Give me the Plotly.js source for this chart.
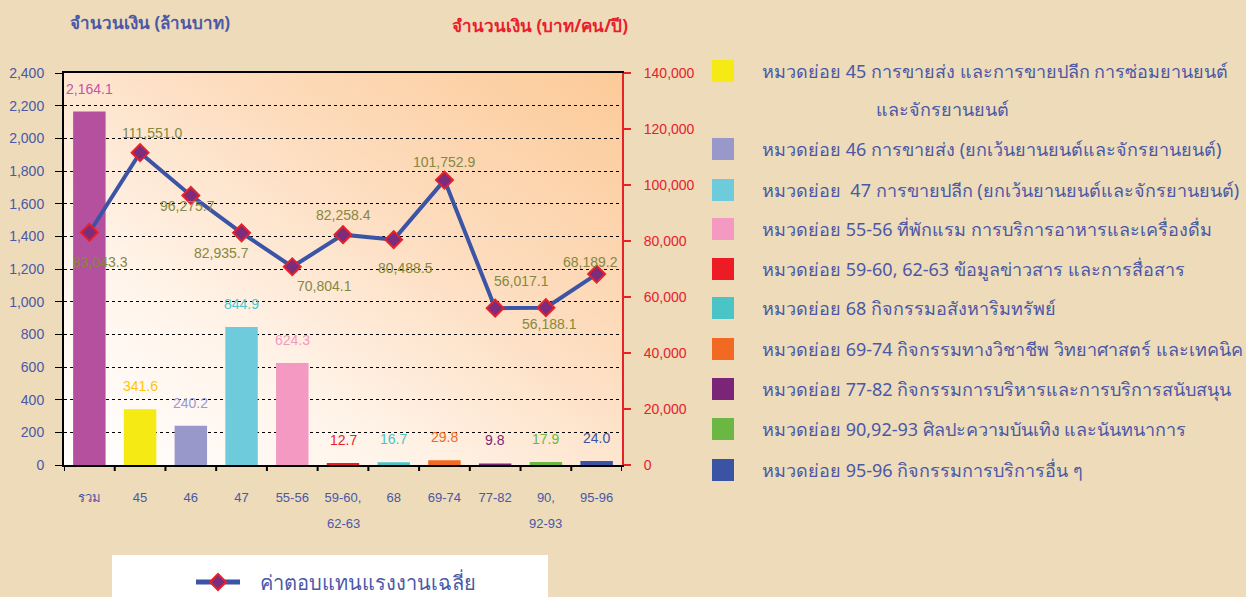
<!DOCTYPE html>
<html>
<head>
<meta charset="utf-8">
<script src="https://cdn.plot.ly/plotly-3.0.1.min.js"></script>
<style>
  html, body { margin:0; padding:0; background:#EDDBBA; width:1246px; height:597px; overflow:hidden; }
  #wrap { position:relative; width:1246px; height:597px; }
  #grad { position:absolute; left:64px; top:73px; width:558px; height:392px;
          background: linear-gradient(to top right, #FFFFFF 0%, #FFF4EA 30%, #FDDDBF 62%, #FCCA98 100%); z-index:0; }
  #chart { position:absolute; left:0; top:0; width:1246px; height:597px; z-index:1; }
</style>
</head>
<body>
<div id="wrap"><div id="grad"></div><div id="chart"></div></div>
<script>
// ---- data ----
const categories = ['รวม', '45', '46', '47', '55-56', '59-60,', '68', '69-74', '77-82', '90,', '95-96'];
const categoryLine2 = ['', '', '', '', '', '62-63', '', '', '', '92-93', ''];
const amountMillionBaht = [2164.1, 341.6, 240.2, 844.9, 624.3, 12.7, 16.7, 29.8, 9.8, 17.9, 24.0];
const avgCompensation = [83043.3, 111551.0, 96275.7, 82935.7, 70804.1, 82258.4, 80488.5, 101752.9, 56017.1, 56188.1, 68189.2];
const legendLabels = [
  'หมวดย่อย 45 การขายส่ง และการขายปลีก การซ่อมยานยนต์',
  'หมวดย่อย 46 การขายส่ง (ยกเว้นยานยนต์และจักรยานยนต์)',
  'หมวดย่อย  47 การขายปลีก (ยกเว้นยานยนต์และจักรยานยนต์)',
  'หมวดย่อย 55-56 ที่พักแรม การบริการอาหารและเครื่องดื่ม',
  'หมวดย่อย 59-60, 62-63 ข้อมูลข่าวสาร และการสื่อสาร',
  'หมวดย่อย 68 กิจกรรมอสังหาริมทรัพย์',
  'หมวดย่อย 69-74 กิจกรรมทางวิชาชีพ วิทยาศาสตร์ และเทคนิค',
  'หมวดย่อย 77-82 กิจกรรมการบริหารและการบริการสนับสนุน',
  'หมวดย่อย 90,92-93 ศิลปะความบันเทิง และนันทนาการ',
  'หมวดย่อย 95-96 กิจกรรมการบริการอื่น ๆ'
];
const legendLabel1Line2 = 'และจักรยานยนต์';
const lineName = 'ค่าตอบแทนแรงงานเฉลี่ย';
const leftTitle = 'จำนวนเงิน (ล้านบาท)';
const rightTitle = 'จำนวนเงิน (บาท/คน/ปี)';

// ---- styles ----
const barColors = ['#B5509E', '#F5EA14', '#9898CB', '#6ECBDC', '#F49AC2', '#ED1C24', '#4BC4C8', '#F26A21', '#7B2579', '#6AB843', '#3A53A4'];
const barLabelColors = ['#C852A8', '#FFC20E', '#9A9AD0', '#4FC6CF', '#F49AC2', '#ED1C24', '#4BC4C8', '#F26A21', '#7B2579', '#6AB843', '#3A53A4'];
const lineLabelShift = [[11,-30],[12,20],[-3,-11],[-20,-20],[32,-19],[0,20],[12,-28],[0,18],[26,27],[4,-16],[-6,12]];
const legendRowY = [71, 149, 190, 229, 269, 308, 349, 389, 429, 470];
const blue = '#4A58A6', red = '#E8202A', olive = '#85883F';
const numFont = 'Tahoma, "Liberation Sans", "Noto Sans", sans-serif';

const L = 64, R = 622, T = 73, B = 465;
const px = x => (x - L) / (R - L);
const py = y => (B - y) / (B - T);
const fmt = v => v.toLocaleString('en-US', {minimumFractionDigits:1, maximumFractionDigits:1});

const idx = categories.map((c, i) => i);

const bars = {
  type: 'bar', x: idx, y: amountMillionBaht,
  marker: {color: barColors}, width: 0.64, showlegend: false, hoverinfo: 'y'
};
const line = {
  type: 'scatter', mode: 'lines+markers', x: idx, y: avgCompensation, yaxis: 'y2',
  line: {color: '#3B54A5', width: 4},
  marker: {symbol: 'diamond', size: 13, color: '#7B2C7D', line: {color: red, width: 2}},
  showlegend: false, name: lineName
};

const note = (o) => Object.assign({showarrow: false, xanchor: 'center', yanchor: 'middle'}, o);

const annotations = [];
idx.forEach((i) => {
  annotations.push(note({x: i, y: amountMillionBaht[i], xref: 'x', yref: 'y', text: fmt(amountMillionBaht[i]),
    yshift: 23, font: {family: numFont, size: 14, color: barLabelColors[i]}}));
  annotations.push(note({x: i, y: avgCompensation[i], xref: 'x', yref: 'y2', text: fmt(avgCompensation[i]),
    xshift: lineLabelShift[i][0], yshift: lineLabelShift[i][1],
    font: {family: numFont, size: 14, color: olive}}));
  if (categoryLine2[i]) {
    annotations.push(note({x: i, y: py(523), xref: 'x', yref: 'paper', text: categoryLine2[i],
      font: {family: numFont, size: 13, color: blue}}));
  }
});
annotations.push(note({x: px(68), y: py(22), xref: 'paper', yref: 'paper', xanchor: 'left', text: '<b>' + leftTitle + '</b>',
  font: {size: 17, color: blue}}));
annotations.push(note({x: px(450), y: py(25), xref: 'paper', yref: 'paper', xanchor: 'left', text: '<b>' + rightTitle + '</b>',
  font: {size: 17, color: red}}));

const shapes = [];
legendLabels.forEach((t, i) => {
  const yc = legendRowY[i];
  shapes.push({type: 'rect', xref: 'paper', yref: 'paper', x0: px(712), x1: px(734), y0: py(yc - 11), y1: py(yc + 11),
    fillcolor: barColors[i + 1], line: {width: 0}});
  annotations.push(note({x: px(760), y: py(yc), xref: 'paper', yref: 'paper', xanchor: 'left', text: t,
    font: {size: 18, color: blue}}));
});
annotations.push(note({x: px(874), y: py(109), xref: 'paper', yref: 'paper', xanchor: 'left', text: legendLabel1Line2,
  font: {size: 18, color: blue}}));

// bottom legend box
shapes.push({type: 'rect', xref: 'paper', yref: 'paper', x0: px(112), x1: px(548), y0: py(555), y1: py(600),
  fillcolor: '#FFFFFF', line: {width: 0}});
shapes.push({type: 'line', xref: 'paper', yref: 'paper', x0: px(196), x1: px(240), y0: py(582), y1: py(582),
  line: {color: '#3B54A5', width: 5}});
shapes.push({type: 'path', xref: 'paper', yref: 'paper',
  path: `M ${px(218)} ${py(574)} L ${px(226)} ${py(582)} L ${px(218)} ${py(590)} L ${px(210)} ${py(582)} Z`,
  fillcolor: '#7B2C7D', line: {color: red, width: 2}});
annotations.push(note({x: px(258), y: py(582), xref: 'paper', yref: 'paper', xanchor: 'left', text: lineName,
  font: {size: 20, color: blue}}));

const layout = {
  width: 1246, height: 597,
  margin: {l: L, r: 1246 - R, t: T, b: 597 - B, pad: 0},
  paper_bgcolor: 'rgba(0,0,0,0)', plot_bgcolor: 'rgba(0,0,0,0)',
  font: {family: '"Noto Sans", sans-serif', color: blue},
  xaxis: {range: [-0.5, categories.length - 0.5], tickmode: 'array', tickvals: idx, ticktext: categories,
    showline: true, linecolor: '#000', linewidth: 2, mirror: true,
    ticks: '', ticklabelstandoff: 19, tickangle: 0,
    tickfont: {family: numFont, size: 13, color: blue}, showgrid: false, zeroline: false},
  yaxis: {range: [0, 2400], dtick: 200, tickformat: ',d', showline: true, linecolor: '#000', linewidth: 2,
    ticks: 'outside', ticklen: 7, tickcolor: '#000', tickwidth: 1, ticklabelstandoff: 8,
    tickfont: {family: numFont, size: 14, color: blue},
    showgrid: true, gridcolor: '#000', gridwidth: 1, griddash: '3px,3px', zeroline: false},
  yaxis2: {range: [0, 140000], dtick: 20000, tickformat: ',d', overlaying: 'y', side: 'right',
    showline: true, linecolor: red, linewidth: 2, ticks: 'outside', ticklen: 7, tickcolor: red, tickwidth: 2,
    ticklabelstandoff: 10, tickfont: {family: numFont, size: 14, color: red}, showgrid: false, zeroline: false},
  annotations: annotations, shapes: shapes
};

// category boundary ticks on the x axis
for (let i = 0; i <= categories.length; i++) {
  shapes.push({type: 'line', xref: 'x', yref: 'paper', x0: i - 0.5, x1: i - 0.5, y0: 0, y1: py(471),
    line: {color: '#000', width: 2}});
}

Plotly.newPlot('chart', [bars, line], layout, {displayModeBar: false, staticPlot: true});
</script>
</body>
</html>
